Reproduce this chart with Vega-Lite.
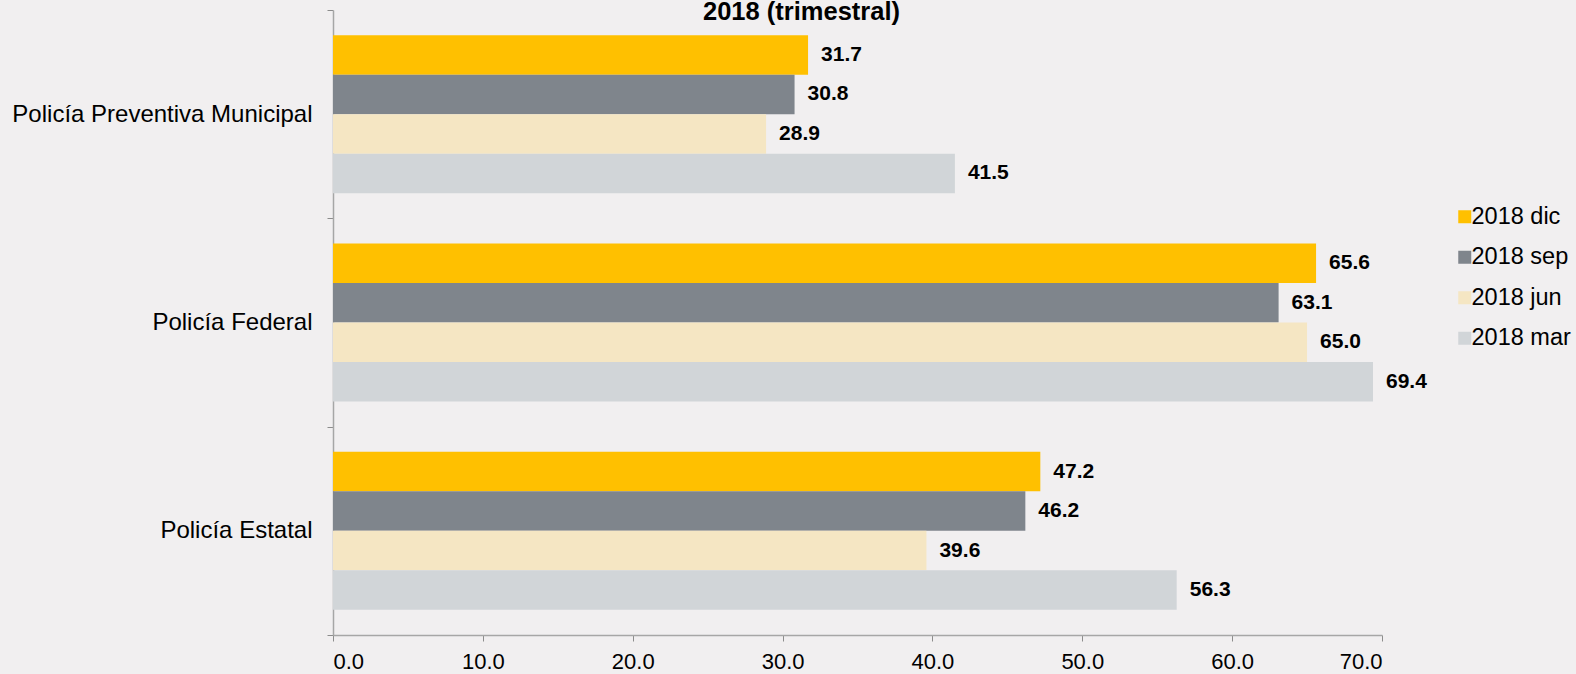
{
  "$schema": "https://vega.github.io/schema/vega-lite/v6.json",
  "width": 1049,
  "height": 625,
  "autosize": "none",
  "padding": {"left": 333, "top": 10, "right": 194, "bottom": 39},
  "background": "#F1EFF0",
  "title": {"text": "2018 (trimestral)", "font": "Liberation Sans", "fontSize": 25.5, "fontWeight": "bold", "color": "#000000", "anchor": "middle", "frame": "group", "baseline": "alphabetic", "offset": -47, "dx": -56},
  "config": {"view": {"stroke": null}, "font": "Liberation Sans"},
  "data": {"values": [
    {"cat": "Policía Preventiva Municipal", "serie": "2018 dic", "v": 31.7},
    {"cat": "Policía Preventiva Municipal", "serie": "2018 sep", "v": 30.8},
    {"cat": "Policía Preventiva Municipal", "serie": "2018 jun", "v": 28.9},
    {"cat": "Policía Preventiva Municipal", "serie": "2018 mar", "v": 41.5},
    {"cat": "Policía Federal", "serie": "2018 dic", "v": 65.6},
    {"cat": "Policía Federal", "serie": "2018 sep", "v": 63.1},
    {"cat": "Policía Federal", "serie": "2018 jun", "v": 65.0},
    {"cat": "Policía Federal", "serie": "2018 mar", "v": 69.4},
    {"cat": "Policía Estatal", "serie": "2018 dic", "v": 47.2},
    {"cat": "Policía Estatal", "serie": "2018 sep", "v": 46.2},
    {"cat": "Policía Estatal", "serie": "2018 jun", "v": 39.6},
    {"cat": "Policía Estatal", "serie": "2018 mar", "v": 56.3}
  ]},
  "encoding": {
    "y": {
      "field": "cat", "type": "nominal",
      "sort": ["Policía Preventiva Municipal", "Policía Federal", "Policía Estatal"],
      "scale": {"paddingInner": 0, "paddingOuter": 0},
      "axis": {"title": null, "domainColor": "#A6A6A6", "domainWidth": 1.5, "tickColor": "#8C8C8C", "tickSize": 6, "tickBand": "extent", "labelFontSize": 24, "labelColor": "#000000", "labelPadding": 15, "labelLimit": 0, "labelFont": "Liberation Sans"}
    },
    "yOffset": {"field": "serie", "sort": ["2018 dic", "2018 sep", "2018 jun", "2018 mar"], "scale": {"paddingInner": 0, "paddingOuter": 0.637}},
    "x": {
      "field": "v", "type": "quantitative",
      "scale": {"domain": [0, 70], "nice": false},
      "axis": {"title": null, "values": [0, 10, 20, 30, 40, 50, 60, 70], "format": ".1f", "grid": false, "domainColor": "#A6A6A6", "domainWidth": 1.5, "tickColor": "#8C8C8C", "tickSize": 6, "labelFontSize": 22, "labelColor": "#000000", "labelPadding": 10, "labelFont": "Liberation Sans"}
    }
  },
  "layer": [
    {
      "mark": {"type": "bar"},
      "encoding": {
        "color": {
          "field": "serie", "type": "nominal",
          "scale": {"domain": ["2018 dic", "2018 sep", "2018 jun", "2018 mar"], "range": ["#FFC000", "#7F858C", "#F5E6C3", "#D1D5D8"]},
          "legend": {"title": null, "orient": "none", "legendX": 1120, "legendY": 195, "symbolType": "square", "symbolSize": 169, "symbolStrokeWidth": 0, "labelFontSize": 23.5, "labelColor": "#000000", "labelFont": "Liberation Sans", "labelOffset": -5, "rowPadding": 15.5}
        }
      }
    },
    {
      "mark": {"type": "text", "align": "left", "baseline": "middle", "dx": 13, "fontWeight": "bold", "fontSize": 21, "color": "#000000"},
      "encoding": {"text": {"field": "v", "type": "quantitative", "format": ".1f"}}
    }
  ]
}
